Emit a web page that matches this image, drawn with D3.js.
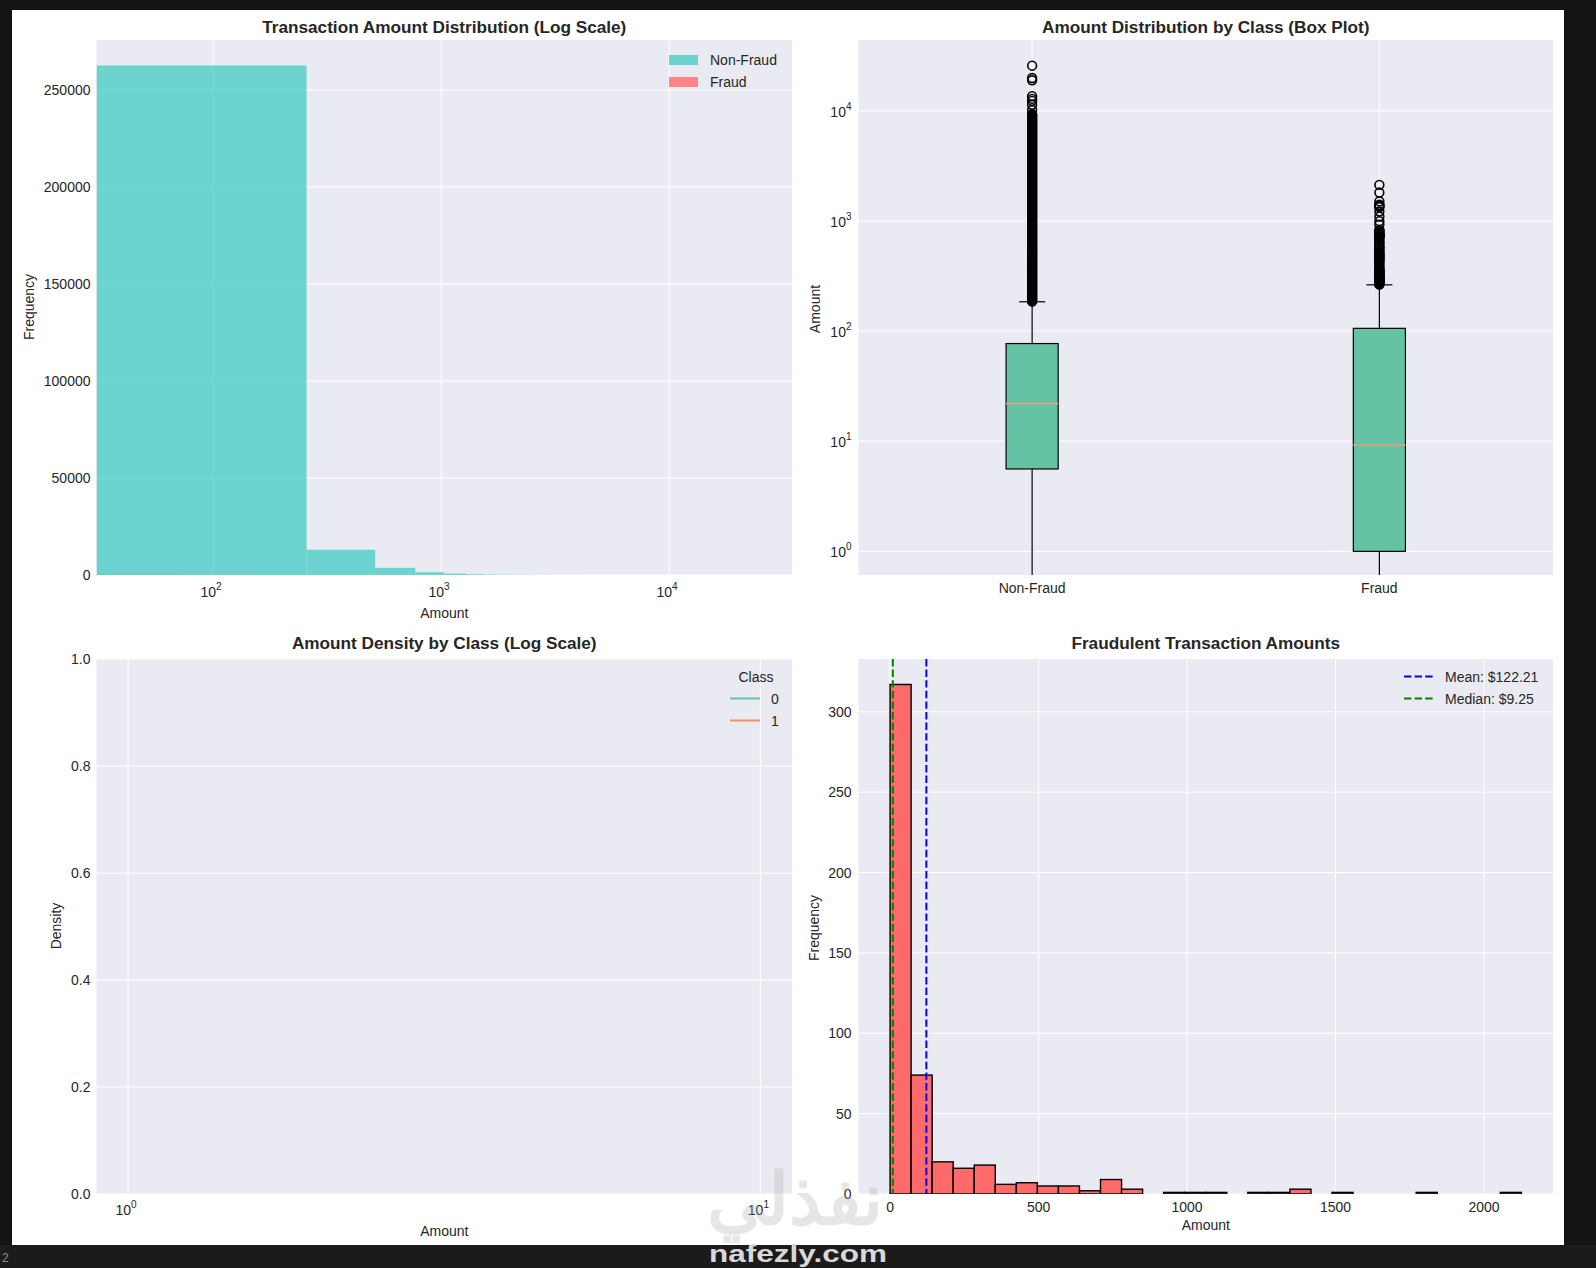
<!DOCTYPE html>
<html>
<head>
<meta charset="utf-8">
<script src="https://cdn.jsdelivr.net/npm/d3@7"></script>
<style>
body{margin:0;background:#131416;}
text{font-family:"Liberation Sans",Arial,sans-serif;fill:#262626;}
</style>
</head>
<body>
<svg id="fig"></svg>
<script>
// ---- data ----

// top-left: histogram of all amounts, linear bins drawn on a log x axis
var nonFraudBinWidth = 256.9;
var nonFraudCounts = [262580, 13020, 3690, 1480, 700, 400, 240, 160, 110, 80,
                      60, 45, 35, 28, 20, 16, 12, 10, 8, 6,
                      5, 4, 3, 3, 2, 2, 2, 1, 1, 1];
var fraudBinWidth = 70.86;
var fraudCounts = [317, 74, 20, 16, 18, 6, 7, 5, 5, 2,
                   9, 3, 0, 1, 1, 1, 0, 1, 1, 3,
                   0, 1, 0, 0, 0, 1, 0, 0, 0, 1];
var histClasses = ["Non-Fraud", "Fraud"];
var histTicksY = [0, 50000, 100000, 150000, 200000, 250000];
var histTicksX = [100, 1000, 10000];

// top-right: box plot
var boxClasses = ["Non-Fraud", "Fraud"];
var boxQ1 = [5.6, 1.0];
var boxMedian = [22.0, 9.25];
var boxQ3 = [77.05, 105.89];
var whiskerLow = [0, 0];
var whiskerHigh = [184.5, 263.0];
// the non-fraud outliers form a solid column from ~185 to ~9300, then a few isolated ones
var nonFraudOutliers = [185.2, 188, 191, 194.5, 198, 202, 206, 210, 214, 218, 222, 226.5, 231, 235.5,
  240, 244.5, 249, 254, 259, 264, 269, 274, 279, 284.5, 290, 295.5, 301, 307, 313, 319, 325, 331,
  337, 343.5, 350, 357, 364, 371, 378, 385, 392, 399.5, 407, 415, 423, 431, 439, 447.5, 456, 465,
  474, 483, 492, 501.5, 511, 520.5, 530, 540.5, 551, 561.5, 572, 583, 594, 605.5, 617, 629, 641,
  653, 665, 678, 691, 704.5, 718, 731.5, 745, 759.5, 774, 789, 804, 819.5, 835, 851, 867, 883.5,
  900, 917.5, 935, 953, 971, 989.5, 1008, 1027.5, 1047, 1067, 1087, 1108, 1129, 1150.5, 1172,
  1194.5, 1217, 1240.5, 1264, 1288.5, 1313, 1338, 1363, 1389.5, 1416, 1443, 1470, 1498.5, 1527,
  1556.5, 1586, 1616.5, 1647, 1678.5, 1710, 1743, 1776, 1810, 1844, 1879.5, 1915, 1952, 1989,
  2027, 2065, 2105, 2145, 2186, 2227, 2270, 2313, 2357.5, 2402, 2448.5, 2495, 2543, 2591, 2640.5,
  2690, 2742, 2794, 2847.5, 2901, 2957, 3013, 3071, 3129, 3189, 3249, 3311.5, 3374, 3439, 3504,
  3571.5, 3639, 3709, 3779, 3851.5, 3924, 3999.5, 4075, 4153.5, 4232, 4313.5, 4395, 4479.5, 4564,
  4652, 4740, 4831, 4922, 5016.5, 5111, 5209.5, 5308, 5410, 5512, 5618, 5724, 5834.5, 5945, 6059.5,
  6174, 6292.5, 6411, 6534.5, 6658, 6786, 6914, 7047, 7180, 7318.5, 7457, 7600.5, 7744, 7893, 8042,
  8197, 8352, 8526, 8700, 8875, 9050, 9175, 9300,
  10170, 11340, 12300, 12830, 13600, 18920, 19860, 25691];
var fraudOutliers = [264, 267, 270, 273, 276.17, 280, 283, 286, 288, 290, 293, 296, 300, 303, 306,
  310, 312, 316, 320, 324, 330, 335, 340, 345, 350, 352, 360, 364, 375, 390, 402, 420, 430, 440,
  451, 459, 470, 480, 490, 500, 512, 520, 540, 560, 570, 589, 592, 634, 635, 660, 690, 712, 717,
  720, 723, 730, 750, 762, 766, 776, 800, 824, 829, 925, 996, 1097, 1219, 1335, 1354, 1389, 1402,
  1505, 1810, 2125.87];
var boxTicksY = [1, 10, 100, 1000, 10000];

// bottom-left: density by class (empty plot with a legend)
var densityClasses = ["0", "1"];
var densityTicksY = [0.0, 0.2, 0.4, 0.6, 0.8, 1.0];
var densityTicksX = [1, 10];

// bottom-right: fraud amounts
var fraudMean = 122.21;
var fraudMedianValue = 9.25;
var fraudTicksX = [0, 500, 1000, 1500, 2000];
var fraudTicksY = [0, 50, 100, 150, 200, 250, 300];

// ---- drawing ----
var W = 1596, H = 1268;
var svg = d3.select("#fig").attr("width", W).attr("height", H);
svg.append("rect").attr("width", W).attr("height", H).attr("fill", "#131416");
svg.append("rect").attr("x", 0).attr("y", 1245).attr("width", W).attr("height", 23).attr("fill", "#1b1b1b");
svg.append("rect").attr("x", 12).attr("y", 10).attr("width", 1552).attr("height", 1235).attr("fill", "#fff");
var defs = svg.append("defs");

var box1 = {l: 96.5, r: 792, t: 40, b: 575};
var box2 = {l: 858.5, r: 1553, t: 40, b: 575};
var box3 = {l: 96.5, r: 792, t: 659, b: 1194};
var box4 = {l: 858.5, r: 1553, t: 659, b: 1194};

function panel(b, id) {
  var g = svg.append("g");
  g.append("rect").attr("x", b.l).attr("y", b.t).attr("width", b.r - b.l).attr("height", b.b - b.t)
    .attr("fill", "#eaeaf2");
  defs.append("clipPath").attr("id", id).append("rect")
    .attr("x", b.l).attr("y", b.t).attr("width", b.r - b.l).attr("height", b.b - b.t);
  return g;
}
function grid(g, b, xs, ys) {
  xs.forEach(function(x){
    g.append("line").attr("x1", x).attr("x2", x).attr("y1", b.t).attr("y2", b.b)
      .attr("stroke", "#fff").attr("stroke-width", 1);
  });
  ys.forEach(function(y){
    g.append("line").attr("x1", b.l).attr("x2", b.r).attr("y1", y).attr("y2", y)
      .attr("stroke", "#fff").attr("stroke-width", 1);
  });
}
function sup(t, exp) {
  t.text("10");
  t.append("tspan").attr("font-size", 10).attr("dy", -7).text(exp);
}
function title(b, y, txt) {
  svg.append("text").attr("x", (b.l + b.r) / 2).attr("y", y).attr("text-anchor", "middle")
    .attr("font-size", 17.2).attr("font-weight", "bold").text(txt);
}
function ylabel(x, y, txt) {
  svg.append("text").attr("transform", "translate(" + x + "," + y + ") rotate(-90)")
    .attr("text-anchor", "middle").attr("font-size", 14).text(txt);
}
function xlabel(x, y, txt) {
  svg.append("text").attr("x", x).attr("y", y).attr("text-anchor", "middle").attr("font-size", 14).text(txt);
}

// panel 1: Transaction Amount Distribution (Log Scale)
var g1 = panel(box1, "c1");
var x1 = d3.scaleLog().domain([30.8, 34600]).range([box1.l, box1.r]);
var y1 = d3.scaleLinear().domain([0, 275700]).range([box1.b, box1.t]);
grid(g1, box1, histTicksX.map(x1), histTicksY.map(y1));
var bars1 = g1.append("g").attr("clip-path", "url(#c1)");
function logX(v, s) { return s(Math.max(v, s.domain()[0])); }
bars1.selectAll("rect.fr").data(fraudCounts).enter().append("rect")
  .attr("x", function(d, i){ return logX(i * fraudBinWidth, x1); })
  .attr("width", function(d, i){ return logX((i + 1) * fraudBinWidth, x1) - logX(i * fraudBinWidth, x1); })
  .attr("y", function(d){ return y1(d); })
  .attr("height", function(d){ return y1(0) - y1(d); })
  .attr("fill", "#ff6b6b").attr("fill-opacity", 0.8);
bars1.selectAll("rect.nf").data(nonFraudCounts).enter().append("rect")
  .attr("x", function(d, i){ return logX(i * nonFraudBinWidth, x1); })
  .attr("width", function(d, i){ return logX((i + 1) * nonFraudBinWidth, x1) - logX(i * nonFraudBinWidth, x1); })
  .attr("y", function(d){ return y1(d); })
  .attr("height", function(d){ return y1(0) - y1(d); })
  .attr("fill", "#4ecdc4").attr("fill-opacity", 0.8);
histTicksY.forEach(function(v){
  svg.append("text").attr("x", box1.l - 6).attr("y", y1(v) + 5).attr("text-anchor", "end")
    .attr("font-size", 14).text(v);
});
histTicksX.forEach(function(v){
  svg.append("text").attr("x", x1(v) - 2).attr("y", box1.b + 22).attr("text-anchor", "middle")
    .attr("font-size", 14).call(sup, Math.round(Math.log10(v)));
});
var leg1 = ["#4ecdc4", "#ff6b6b"];
histClasses.forEach(function(c, i){
  svg.append("rect").attr("x", 669).attr("y", 55 + i * 22).attr("width", 29).attr("height", 10)
    .attr("fill", leg1[i]).attr("fill-opacity", 0.8);
  svg.append("text").attr("x", 710).attr("y", 65 + i * 22).attr("font-size", 14).text(c);
});
title(box1, 33, "Transaction Amount Distribution (Log Scale)");
xlabel((box1.l + box1.r) / 2, 618, "Amount");
ylabel(34, 307, "Frequency");

// panel 2: box plot
var g2 = panel(box2, "c2");
var x2 = d3.scaleLinear().domain([0.5, 2.5]).range([box2.l, box2.r]);
var y2 = d3.scaleLog().domain([0.61, 43950]).range([box2.b, box2.t]);
grid(g2, box2, [x2(1), x2(2)], boxTicksY.map(y2));
var bp = g2.append("g").attr("clip-path", "url(#c2)");
var halfW = (x2(1.075) - x2(1));
function yb(v) { return y2(Math.max(v, 0.3)); }
boxClasses.forEach(function(c, i){
  var cx = x2(i + 1);
  bp.append("line").attr("x1", cx).attr("x2", cx).attr("y1", yb(whiskerLow[i])).attr("y2", yb(boxQ1[i]))
    .attr("stroke", "#000").attr("stroke-width", 1.2);
  bp.append("line").attr("x1", cx).attr("x2", cx).attr("y1", yb(boxQ3[i])).attr("y2", yb(whiskerHigh[i]))
    .attr("stroke", "#000").attr("stroke-width", 1.2);
  bp.append("line").attr("x1", cx - halfW / 2).attr("x2", cx + halfW / 2)
    .attr("y1", yb(whiskerHigh[i])).attr("y2", yb(whiskerHigh[i]))
    .attr("stroke", "#000").attr("stroke-width", 1.2);
  bp.append("rect").attr("x", cx - halfW).attr("width", 2 * halfW)
    .attr("y", yb(boxQ3[i])).attr("height", yb(boxQ1[i]) - yb(boxQ3[i]))
    .attr("fill", "#66c2a5").attr("stroke", "#000").attr("stroke-width", 1.2);
  bp.append("line").attr("x1", cx - halfW).attr("x2", cx + halfW)
    .attr("y1", yb(boxMedian[i])).attr("y2", yb(boxMedian[i]))
    .attr("stroke", "#cda47c").attr("stroke-width", 2);
  var outs = i === 0 ? nonFraudOutliers : fraudOutliers;
  bp.selectAll(null).data(outs).enter().append("circle")
    .attr("cx", cx).attr("cy", function(d){ return yb(d); }).attr("r", 4.4)
    .attr("fill", "none").attr("stroke", "#000").attr("stroke-width", 1.6);
  svg.append("text").attr("x", cx).attr("y", box2.b + 18).attr("text-anchor", "middle")
    .attr("font-size", 14).text(c);
});
boxTicksY.forEach(function(v){
  svg.append("text").attr("x", box2.l - 7).attr("y", y2(v) + 6).attr("text-anchor", "end")
    .attr("font-size", 14).call(sup, Math.round(Math.log10(v)));
});
title(box2, 33, "Amount Distribution by Class (Box Plot)");
ylabel(820, 309, "Amount");

// panel 3: density (empty) with legend
var g3 = panel(box3, "c3");
var x3 = d3.scaleLog().domain([Math.pow(10, -0.05), Math.pow(10, 1.05)]).range([box3.l, box3.r]);
var y3 = d3.scaleLinear().domain([0, 1]).range([box3.b, box3.t]);
grid(g3, box3, densityTicksX.map(x3), densityTicksY.map(y3));
densityTicksY.forEach(function(v){
  svg.append("text").attr("x", box3.l - 6).attr("y", y3(v) + 5).attr("text-anchor", "end")
    .attr("font-size", 14).text(v.toFixed(1));
});
densityTicksX.forEach(function(v){
  svg.append("text").attr("x", x3(v) - 2).attr("y", box3.b + 21).attr("text-anchor", "middle")
    .attr("font-size", 14).call(sup, Math.round(Math.log10(v)));
});
var densityColors = ["#66c2a5", "#fc8d62"];
svg.append("text").attr("x", 756).attr("y", 682).attr("text-anchor", "middle").attr("font-size", 14).text("Class");
densityClasses.forEach(function(c, i){
  svg.append("line").attr("x1", 730).attr("x2", 760).attr("y1", 698.5 + i * 22).attr("y2", 698.5 + i * 22)
    .attr("stroke", densityColors[i]).attr("stroke-width", 2);
  svg.append("text").attr("x", 771).attr("y", 703.5 + i * 22).attr("font-size", 14).text(c);
});
title(box3, 649, "Amount Density by Class (Log Scale)");
xlabel((box3.l + box3.r) / 2, 1236, "Amount");
ylabel(61, 926, "Density");

// panel 4: fraudulent transaction amounts
var g4 = panel(box4, "c4");
var x4 = d3.scaleLinear().domain([-106.3, 2232.2]).range([box4.l, box4.r]);
var y4 = d3.scaleLinear().domain([0, 332.85]).range([box4.b, box4.t]);
grid(g4, box4, fraudTicksX.map(x4), fraudTicksY.map(y4));
var bars4 = g4.append("g").attr("clip-path", "url(#c4)");
bars4.selectAll("rect").data(fraudCounts).enter().append("rect")
  .attr("x", function(d, i){ return x4(i * fraudBinWidth); })
  .attr("width", function(){ return x4(fraudBinWidth) - x4(0); })
  .attr("y", function(d){ return y4(d); })
  .attr("height", function(d){ return y4(0) - y4(d); })
  .attr("fill", "#ff6b6b").attr("stroke", "#000").attr("stroke-width", 1.4);
var refLines = [[fraudMean, "#0000ff", "Mean: $" + fraudMean.toFixed(2)],
                [fraudMedianValue, "#008000", "Median: $" + fraudMedianValue.toFixed(2)]];
refLines.forEach(function(r, i){
  g4.append("line").attr("x1", x4(r[0])).attr("x2", x4(r[0])).attr("y1", box4.t).attr("y2", box4.b)
    .attr("stroke", r[1]).attr("stroke-width", 2).attr("stroke-dasharray", "7.4,3.2");
  svg.append("line").attr("x1", 1404).attr("x2", 1434).attr("y1", 676.5 + i * 22).attr("y2", 676.5 + i * 22)
    .attr("stroke", r[1]).attr("stroke-width", 2).attr("stroke-dasharray", "7.4,3.2");
  svg.append("text").attr("x", 1445).attr("y", 681.5 + i * 22).attr("font-size", 14).text(r[2]);
});
fraudTicksY.forEach(function(v){
  svg.append("text").attr("x", box4.l - 7).attr("y", y4(v) + 5).attr("text-anchor", "end")
    .attr("font-size", 14).text(v);
});
fraudTicksX.forEach(function(v){
  svg.append("text").attr("x", x4(v)).attr("y", box4.b + 17.5).attr("text-anchor", "middle")
    .attr("font-size", 14).text(v);
});
title(box4, 649, "Fraudulent Transaction Amounts");
xlabel((box4.l + box4.r) / 2, 1230, "Amount");
ylabel(819, 928, "Frequency");

// watermark and page number
svg.append("text").attr("x", 795).attr("y", 1224).attr("text-anchor", "middle")
  .attr("font-family", "DejaVu Sans").attr("font-weight", "bold").attr("font-size", 72)
  .style("fill", "#b0b0b0").attr("opacity", 0.3).text("نفذلي");
svg.append("text").attr("x", 709).attr("y", 1262).attr("textLength", 178).attr("lengthAdjust", "spacingAndGlyphs")
  .attr("font-weight", "bold").attr("font-size", 24).style("fill", "#d8d8d8").text("nafezly.com");
svg.append("text").attr("x", 2).attr("y", 1262).attr("font-size", 12).style("fill", "#8a8a8a").text("2");
</script>
</body>
</html>
